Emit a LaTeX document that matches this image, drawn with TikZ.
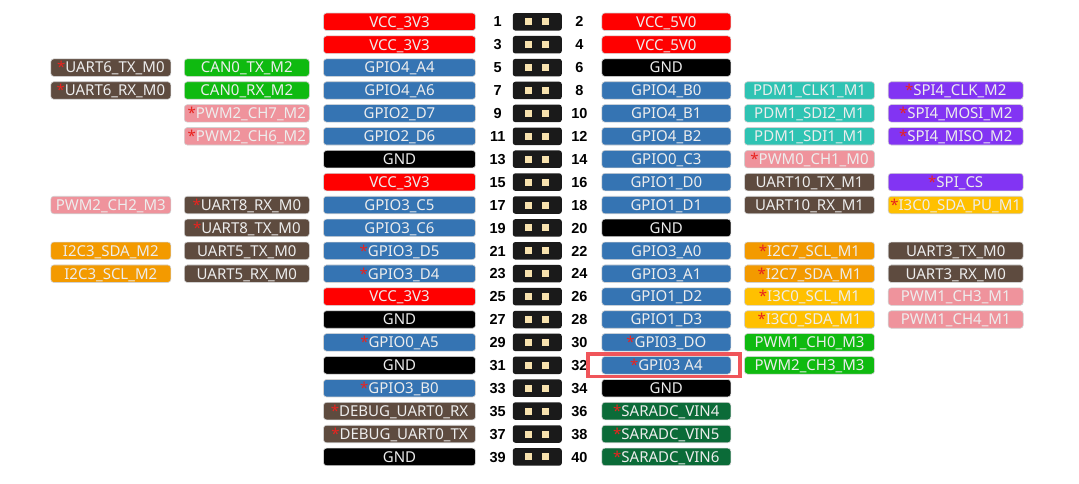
\documentclass[tikz,border=0pt]{standalone}
\usepackage{fontspec}
\setmainfont{Noto Sans}
\newfontfamily\numfont{Liberation Sans}

\definecolor{cvcc}{HTML}{FF0000}
\definecolor{cgpio}{HTML}{3574B3}
\definecolor{cgnd}{HTML}{000000}
\definecolor{cuart}{HTML}{5E4B3F}
\definecolor{ccan}{HTML}{0FBA10}
\definecolor{cpwm}{HTML}{EF939C}
\definecolor{ci2c}{HTML}{F39A00}
\definecolor{ci3c}{HTML}{FFC000}
\definecolor{cpdm}{HTML}{2FC3B3}
\definecolor{cspi}{HTML}{8234F3}
\definecolor{cadc}{HTML}{0B6B38}
\definecolor{chdr}{HTML}{1A1A1A}
\definecolor{cpad}{HTML}{F7E2AE}
\definecolor{starred}{HTML}{E8231F}
\definecolor{hilite}{HTML}{F0555A}

\newcommand\redstar{{\color{starred}*}}

\tikzset{
  pinbox/.style={rounded corners=3pt, minimum height=17.5pt, inner sep=0pt,
    text height=10.7pt, text depth=0pt, text=white!93!black,
    draw=white!82!black, line width=0.6pt,
    font=\fontsize{15}{18}\selectfont},
  vccbox/.style={pinbox, fill=cvcc},
  gpiobox/.style={pinbox, fill=cgpio},
  gndbox/.style={pinbox, fill=cgnd},
  uartbox/.style={pinbox, fill=cuart},
  canbox/.style={pinbox, fill=ccan},
  pwmbox/.style={pinbox, fill=cpwm},
  itwocbox/.style={pinbox, fill=ci2c},
  ithreecbox/.style={pinbox, fill=ci3c},
  pdmbox/.style={pinbox, fill=cpdm},
  spibox/.style={pinbox, fill=cspi},
  adcbox/.style={pinbox, fill=cadc},
  colfar/.style={minimum width=120pt},
  colnear/.style={minimum width=125pt},
  colleft/.style={minimum width=152pt},
  colright/.style={minimum width=129pt},
  colone/.style={minimum width=130pt},
  coltwo/.style={minimum width=135pt},
  header/.style={fill=chdr, rounded corners=2.5pt, minimum width=49pt,
    minimum height=17.5pt, inner sep=0pt},
  pad/.style={fill=cpad, minimum size=7pt, inner sep=0pt},
  pinnum/.style={font=\numfont\bfseries\fontsize{14.5}{16}\selectfont,
    text height=10.4pt, text depth=0pt, inner sep=0pt},
}

\begin{document}
\begin{tikzpicture}[x=1pt, y=-22.9pt]
\useasboundingbox (0,0.048) rectangle (1079,21.183);

% header and pin numbers
\foreach \r [evaluate=\r as \odd using int(2*\r-1),
             evaluate=\r as \even using int(2*\r)] in {1,...,20} {
  \node[header] (hdr\r) at (537.3,\r) {};
  \node[pad] at ([xshift=-8.6pt]hdr\r.center) {};
  \node[pad] at ([xshift=8.6pt]hdr\r.center) {};
  \node[pinnum] (n\odd) at (497.7,\r) {\odd};
  \node[pinnum] (n\even) at (579.4,\r) {\even};
}

% odd pins
\node[vccbox, colleft] (p1) at (399.5,1) {VCC\_3V3};
\node[vccbox, colleft] (p3) at (399.5,2) {VCC\_3V3};
\node[gpiobox, colleft] (p5) at (399.5,3) {GPIO4\_A4};
\node[gpiobox, colleft] (p7) at (399.5,4) {GPIO4\_A6};
\node[gpiobox, colleft] (p9) at (399.5,5) {GPIO2\_D7};
\node[gpiobox, colleft] (p11) at (399.5,6) {GPIO2\_D6};
\node[gndbox, colleft] (p13) at (399.5,7) {GND};
\node[vccbox, colleft] (p15) at (399.5,8) {VCC\_3V3};
\node[gpiobox, colleft] (p17) at (399.5,9) {GPIO3\_C5};
\node[gpiobox, colleft] (p19) at (399.5,10) {GPIO3\_C6};
\node[gpiobox, colleft] (p21) at (399.5,11) {\redstar GPIO3\_D5};
\node[gpiobox, colleft] (p23) at (399.5,12) {\redstar GPIO3\_D4};
\node[vccbox, colleft] (p25) at (399.5,13) {VCC\_3V3};
\node[gndbox, colleft] (p27) at (399.5,14) {GND};
\node[gpiobox, colleft] (p29) at (399.5,15) {\redstar GPIO0\_A5};
\node[gndbox, colleft] (p31) at (399.5,16) {GND};
\node[gpiobox, colleft] (p33) at (399.5,17) {\redstar GPIO3\_B0};
\node[uartbox, colleft] (p35) at (399.5,18) {\redstar DEBUG\_UART0\_RX};
\node[uartbox, colleft] (p37) at (399.5,19) {\redstar DEBUG\_UART0\_TX};
\node[gndbox, colleft] (p39) at (399.5,20) {GND};

% even pins
\node[vccbox, colright] (p2) at (666.3,1) {VCC\_5V0};
\node[vccbox, colright] (p4) at (666.3,2) {VCC\_5V0};
\node[gndbox, colright] (p6) at (666.3,3) {GND};
\node[gpiobox, colright] (p8) at (666.3,4) {GPIO4\_B0};
\node[gpiobox, colright] (p10) at (666.3,5) {GPIO4\_B1};
\node[gpiobox, colright] (p12) at (666.3,6) {GPIO4\_B2};
\node[gpiobox, colright] (p14) at (666.3,7) {GPIO0\_C3};
\node[gpiobox, colright] (p16) at (666.3,8) {GPIO1\_D0};
\node[gpiobox, colright] (p18) at (666.3,9) {GPIO1\_D1};
\node[gndbox, colright] (p20) at (666.3,10) {GND};
\node[gpiobox, colright] (p22) at (666.3,11) {GPIO3\_A0};
\node[gpiobox, colright] (p24) at (666.3,12) {GPIO3\_A1};
\node[gpiobox, colright] (p26) at (666.3,13) {GPIO1\_D2};
\node[gpiobox, colright] (p28) at (666.3,14) {GPIO1\_D3};
\node[gpiobox, colright] (p30) at (666.3,15) {\redstar GPI03\_DO};
\node[gpiobox, colright] (p32) at (666.3,16) {\redstar GPI03 A4};
\node[gndbox, colright] (p34) at (666.3,17) {GND};
\node[adcbox, colright] (p36) at (666.3,18) {\redstar SARADC\_VIN4};
\node[adcbox, colright] (p38) at (666.3,19) {\redstar SARADC\_VIN5};
\node[adcbox, colright] (p40) at (666.3,20) {\redstar SARADC\_VIN6};

% alternate functions, left side
\node[uartbox, colfar] (uart6tx) at (110.8,3) {\redstar UART6\_TX\_M0};
\node[uartbox, colfar] (uart6rx) at (110.8,4) {\redstar UART6\_RX\_M0};
\node[pwmbox, colfar] (pwm2ch2) at (110.8,9) {PWM2\_CH2\_M3};
\node[itwocbox, colfar] (i2c3sda) at (110.8,11) {I2C3\_SDA\_M2};
\node[itwocbox, colfar] (i2c3scl) at (110.8,12) {I2C3\_SCL\_M2};

\node[canbox, colnear] (can0tx) at (246.8,3) {CAN0\_TX\_M2};
\node[canbox, colnear] (can0rx) at (246.8,4) {CAN0\_RX\_M2};
\node[pwmbox, colnear] (pwm2ch7) at (246.8,5) {\redstar PWM2\_CH7\_M2};
\node[pwmbox, colnear] (pwm2ch6) at (246.8,6) {\redstar PWM2\_CH6\_M2};
\node[uartbox, colnear] (uart8rx) at (246.8,9) {\redstar UART8\_RX\_M0};
\node[uartbox, colnear] (uart8tx) at (246.8,10) {\redstar UART8\_TX\_M0};
\node[uartbox, colnear] (uart5tx) at (246.8,11) {UART5\_TX\_M0};
\node[uartbox, colnear] (uart5rx) at (246.8,12) {UART5\_RX\_M0};

% alternate functions, right side
\node[pdmbox, colone] (pdmclk) at (809.5,4) {PDM1\_CLK1\_M1};
\node[pdmbox, colone] (pdmsdi2) at (809.5,5) {PDM1\_SDI2\_M1};
\node[pdmbox, colone] (pdmsdi1) at (809.5,6) {PDM1\_SDI1\_M1};
\node[pwmbox, colone] (pwm0ch1) at (809.5,7) {\redstar PWM0\_CH1\_M0};
\node[uartbox, colone] (uart10tx) at (809.5,8) {UART10\_TX\_M1};
\node[uartbox, colone] (uart10rx) at (809.5,9) {UART10\_RX\_M1};
\node[itwocbox, colone] (i2c7scl) at (809.5,11) {\redstar I2C7\_SCL\_M1};
\node[itwocbox, colone] (i2c7sda) at (809.5,12) {\redstar I2C7\_SDA\_M1};
\node[ithreecbox, colone] (i3c0scl) at (809.5,13) {\redstar I3C0\_SCL\_M1};
\node[ithreecbox, colone] (i3c0sda) at (809.5,14) {\redstar I3C0\_SDA\_M1};
\node[canbox, colone] (pwm1ch0) at (809.5,15) {PWM1\_CH0\_M3};
\node[canbox, colone] (pwm2ch3) at (809.5,16) {PWM2\_CH3\_M3};

\node[spibox, coltwo] (spi4clk) at (955.7,4) {\redstar SPI4\_CLK\_M2};
\node[spibox, coltwo] (spi4mosi) at (955.7,5) {\redstar SPI4\_MOSI\_M2};
\node[spibox, coltwo] (spi4miso) at (955.7,6) {\redstar SPI4\_MISO\_M2};
\node[spibox, coltwo] (spics) at (955.7,8) {\redstar SPI\_CS};
\node[ithreecbox, coltwo] (i3c0pu) at (955.7,9) {\redstar I3C0\_SDA\_PU\_M1};
\node[uartbox, coltwo] (uart3tx) at (955.7,11) {UART3\_TX\_M0};
\node[uartbox, coltwo] (uart3rx) at (955.7,12) {UART3\_RX\_M0};
\node[pwmbox, coltwo] (pwm1ch3) at (955.7,13) {PWM1\_CH3\_M1};
\node[pwmbox, coltwo] (pwm1ch4) at (955.7,14) {PWM1\_CH4\_M1};

% highlight on pin 32
\draw[hilite, line width=3.4pt]
  ([shift={(-13.7pt,2.2pt)}]p32.north west) rectangle ([shift={(9pt,-2.3pt)}]p32.south east);
\end{tikzpicture}
\end{document}
